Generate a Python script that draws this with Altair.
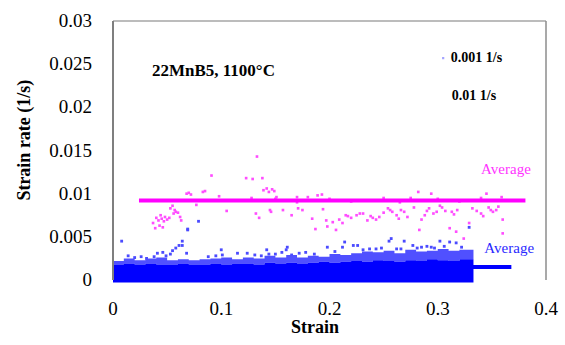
import altair as alt
import pandas as pd

# ---------------- data ----------------
# dense blue band (0.001 1/s): strain grid and envelope tops
band_x = [0.00, 0.01, 0.02, 0.03, 0.04, 0.05, 0.06, 0.07, 0.08, 0.09, 0.10, 0.11,
          0.12, 0.13, 0.14, 0.15, 0.16, 0.17, 0.18, 0.19, 0.20, 0.21, 0.22, 0.23,
          0.24, 0.25, 0.26, 0.27, 0.28, 0.29, 0.30, 0.31, 0.32, 0.333]
band_solid_top = [0.0018, 0.0019, 0.0018, 0.0019, 0.0018, 0.0018, 0.0019, 0.0018, 0.0018,
                  0.0019, 0.0018, 0.0019, 0.0019, 0.0018, 0.0020, 0.0019, 0.0020, 0.0019,
                  0.0020, 0.0021, 0.0020, 0.0021, 0.0022, 0.0021, 0.0023, 0.0022, 0.0021,
                  0.0023, 0.0022, 0.0024, 0.0023, 0.0022, 0.0024, 0.0022]
band_fringe_top = [0.0022, 0.0025, 0.0023, 0.0025, 0.0026, 0.0023, 0.0024, 0.0023, 0.0024,
                   0.0025, 0.0026, 0.0024, 0.0026, 0.0025, 0.0028, 0.0026, 0.0029, 0.0026,
                   0.0028, 0.0027, 0.0030, 0.0029, 0.0031, 0.0033, 0.0032, 0.0034, 0.0031,
                   0.0035, 0.0033, 0.0034, 0.0036, 0.0034, 0.0035, 0.0032]
band_base = -0.0003

# scattered blue points above the band
blue_x = [0.008, 0.014, 0.031, 0.038, 0.041, 0.046, 0.053, 0.055, 0.058, 0.061, 0.064, 0.064,
          0.068, 0.069, 0.069, 0.079, 0.100, 0.101, 0.115, 0.124, 0.142, 0.144, 0.156, 0.160,
          0.161, 0.165, 0.178, 0.198, 0.212, 0.214, 0.222, 0.226, 0.237, 0.243, 0.255, 0.257,
          0.262, 0.269, 0.277, 0.285, 0.290, 0.297, 0.302, 0.311, 0.317, 0.329,
          0.020, 0.026, 0.049, 0.088, 0.095, 0.131, 0.137, 0.150, 0.172, 0.186, 0.205,
          0.231, 0.248, 0.266, 0.281, 0.294, 0.306, 0.322]
blue_y = [0.0045, 0.0028, 0.0025, 0.0027, 0.0031, 0.0032, 0.0030, 0.0034, 0.0037, 0.0040,
          0.0040, 0.0045, 0.0031, 0.0058, 0.0059, 0.0068, 0.0035, 0.0029, 0.0031, 0.0031,
          0.0035, 0.0030, 0.0032, 0.0035, 0.0038, 0.0029, 0.0032, 0.0038, 0.0038, 0.0044,
          0.0040, 0.0040, 0.0036, 0.0036, 0.0045, 0.0048, 0.0036, 0.0045, 0.0040, 0.0038,
          0.0039, 0.0037, 0.0045, 0.0044, 0.0043, 0.0061,
          0.0026, 0.0027, 0.0028, 0.0027, 0.0028, 0.0029, 0.0028, 0.0030, 0.0031, 0.0030,
          0.0033, 0.0035, 0.0037, 0.0036, 0.0037, 0.0038, 0.0039, 0.0038]

# magenta points (0.01 1/s)
mag_x = [0.037, 0.040, 0.042, 0.044, 0.045, 0.047, 0.048, 0.050, 0.052, 0.043, 0.046, 0.039,
         0.053, 0.055, 0.057, 0.058, 0.060, 0.056, 0.062, 0.063, 0.068, 0.070, 0.072, 0.077,
         0.083, 0.085, 0.091, 0.098, 0.105, 0.123, 0.129, 0.133, 0.138, 0.139, 0.142,
         0.144, 0.147, 0.149, 0.128, 0.132, 0.135, 0.145, 0.146, 0.151, 0.157, 0.160, 0.165,
         0.170, 0.171, 0.175, 0.180, 0.184, 0.187, 0.189, 0.193, 0.194, 0.197, 0.198, 0.203,
         0.206, 0.209, 0.212, 0.215, 0.217, 0.220, 0.225, 0.228, 0.231, 0.235, 0.238, 0.240,
         0.243, 0.246, 0.250, 0.254, 0.256, 0.258, 0.262, 0.264, 0.266, 0.269, 0.272, 0.275,
         0.278, 0.282, 0.283, 0.285, 0.288, 0.290, 0.292, 0.294, 0.296, 0.299, 0.302, 0.304,
         0.307, 0.311, 0.313, 0.315, 0.318, 0.317, 0.324, 0.329, 0.332, 0.336, 0.340, 0.342,
         0.345, 0.347, 0.349, 0.351, 0.354, 0.356, 0.359, 0.360, 0.360,
         0.150, 0.170, 0.200, 0.220, 0.250, 0.265, 0.300, 0.320, 0.340, 0.372]
mag_y = [0.0066, 0.0072, 0.0069, 0.0075, 0.0071, 0.0068, 0.0073, 0.0070, 0.0072, 0.0063,
         0.0061, 0.0060, 0.0083, 0.0086, 0.0081, 0.0079, 0.0078, 0.0077, 0.0073, 0.0069,
         0.0100, 0.0101, 0.0099, 0.0087, 0.0102, 0.0103, 0.0121, 0.0097, 0.0080,
         0.0118, 0.0117, 0.0143, 0.0118, 0.0104, 0.0106, 0.0102, 0.0105, 0.0103, 0.0095,
         0.0077, 0.0072, 0.0081, 0.0079, 0.0096, 0.0081, 0.0092, 0.0075, 0.0096, 0.0083,
         0.0081, 0.0096, 0.0071, 0.0059, 0.0098, 0.0099, 0.0082, 0.0069, 0.0062, 0.0067,
         0.0058, 0.0070, 0.0066, 0.0075, 0.0074, 0.0072, 0.0075, 0.0077, 0.0077, 0.0069,
         0.0074, 0.0072, 0.0070, 0.0073, 0.0078, 0.0083, 0.0081, 0.0079, 0.0075, 0.0071,
         0.0081, 0.0079, 0.0073, 0.0095, 0.0084, 0.0102, 0.0058, 0.0070, 0.0075, 0.0080,
         0.0083, 0.0100, 0.0077, 0.0079, 0.0086, 0.0084, 0.0080, 0.0060, 0.0079, 0.0076,
         0.0081, 0.0056, 0.0048, 0.0066, 0.0083, 0.0080, 0.0077, 0.0074, 0.0100, 0.0084,
         0.0081, 0.0079, 0.0081, 0.0085, 0.0096, 0.0070, 0.0054,
         0.0094, 0.0090, 0.0094, 0.0091, 0.0095, 0.0090, 0.0094, 0.0091, 0.0095, 0.0092]

# average lines: [x start, x end, y]
avg_mag = [0.024, 0.381, 0.0092]
avg_blue = [0.0, 0.368, 0.0015]

# annotation texts and their data positions
label_avg_mag = ["Average", 0.363, 0.0129]
label_avg_blue = ["Average", 0.366, 0.0037]
title_text = ["22MnB5, 1100\u00b0C", 0.036, 0.0242]
legend_items = ["0.001 1/s", "0.01 1/s"]
legend_x = [0.312, 0.313]
legend_y = [0.0257, 0.0213]
legend_marker = [0.305, 0.0257]

# axes: tick values, tick labels, titles (title positions in data units)
x_ticks = [0, 0.1, 0.2, 0.3, 0.4]
x_tick_labels = ["0", "0.1", "0.2", "0.3", "0.4"]
y_ticks = [0, 0.005, 0.01, 0.015, 0.02, 0.025, 0.03]
y_tick_labels = ["0", "0.005", "0.01", "0.015", "0.02", "0.025", "0.03"]
x_title = ["Strain", 0.1866, -0.0056]
y_title = ["Strain rate (1/s)", -0.0813, 0.0162]
x_range = [0, 0.4]
y_range = [0, 0.03]

# ---------------- chart ----------------
SERIF = "Liberation Serif"
xs = alt.Scale(domain=x_range, nice=False, zero=False)
ys = alt.Scale(domain=y_range, nice=False, zero=False)


def X(field):
    return alt.X(field, type="quantitative", scale=xs, axis=None)


def Y(field):
    return alt.Y(field, type="quantitative", scale=ys, axis=None)


band_df = pd.DataFrame({"x": band_x, "solid": band_solid_top,
                        "fringe": band_fringe_top, "base": [band_base] * len(band_x)})
blue_df = pd.DataFrame({"x": blue_x, "y": blue_y})
mag_df = pd.DataFrame({"x": mag_x, "y": mag_y})
avg_df_m = pd.DataFrame({"x": [avg_mag[0]], "x2": [avg_mag[1]], "y": [avg_mag[2]]})
avg_df_b = pd.DataFrame({"x": [avg_blue[0]], "x2": [avg_blue[1]], "y": [avg_blue[2]]})

fringe = alt.Chart(band_df).mark_area(color="#3d3dff", interpolate="step-after",
                                      opacity=0.9).encode(
    x=X("x"), y=Y("fringe"), y2="solid:Q")
solid = alt.Chart(band_df).mark_area(color="#0000ff", interpolate="step-after").encode(
    x=X("x"), y=Y("solid"), y2="base:Q")
blue_pts = alt.Chart(blue_df).mark_square(size=8, color="#4b4bff", opacity=1).encode(
    x=X("x"), y=Y("y"))
mag_pts = alt.Chart(mag_df).mark_square(size=7, color="#ff4dff", opacity=1).encode(
    x=X("x"), y=Y("y"))
rule_m = alt.Chart(avg_df_m).mark_rule(color="#ff00ff", strokeWidth=4).encode(
    x=X("x"), x2="x2:Q", y=Y("y"))
rule_b = alt.Chart(avg_df_b).mark_rule(color="#0000ff", strokeWidth=4).encode(
    x=X("x"), x2="x2:Q", y=Y("y"))

# frame: left (dark), top and right (light); no bottom line as in the reference
left_df = pd.DataFrame({"x": [x_range[0]], "y": [y_range[0]], "y2": [y_range[1]]})
right_df = pd.DataFrame({"x": [x_range[1]], "y": [y_range[0]], "y2": [y_range[1]]})
top_df = pd.DataFrame({"x": [x_range[0]], "x2": [x_range[1]], "y": [y_range[1]]})
frame_left = alt.Chart(left_df).mark_rule(color="#7f7f7f", strokeWidth=2).encode(
    x=X("x"), y=Y("y"), y2="y2:Q")
frame_right = alt.Chart(right_df).mark_rule(color="#8c8c8c", strokeWidth=1.5).encode(
    x=X("x"), y=Y("y"), y2="y2:Q")
frame_top = alt.Chart(top_df).mark_rule(color="#a6a6a6", strokeWidth=1.5).encode(
    x=X("x"), x2="x2:Q", y=Y("y"))

# tick labels and axis titles
ylab_df = pd.DataFrame({"v": y_ticks, "t": y_tick_labels, "x": [x_range[0]] * len(y_ticks)})
xlab_df = pd.DataFrame({"v": x_ticks, "t": x_tick_labels, "y": [y_range[0]] * len(x_ticks)})
y_labels = alt.Chart(ylab_df).mark_text(font=SERIF, fontSize=19, color="black",
                                        align="right", baseline="middle", dx=-21).encode(
    x=X("x"), y=Y("v"), text="t:N")
x_labels = alt.Chart(xlab_df).mark_text(font=SERIF, fontSize=19, color="black",
                                        align="center", baseline="top", dy=20).encode(
    x=X("v"), y=Y("y"), text="t:N")
xt = alt.Chart(pd.DataFrame({"t": [x_title[0]], "x": [x_title[1]], "y": [x_title[2]]})
               ).mark_text(font=SERIF, fontSize=18, fontWeight="bold", color="black",
                           align="center", baseline="middle").encode(
    x=X("x"), y=Y("y"), text="t:N")
yt = alt.Chart(pd.DataFrame({"t": [y_title[0]], "x": [y_title[1]], "y": [y_title[2]]})
               ).mark_text(font=SERIF, fontSize=18, fontWeight="bold", color="black",
                           align="center", baseline="middle", angle=270).encode(
    x=X("x"), y=Y("y"), text="t:N")


def text_layer(df, **kw):
    return alt.Chart(df).mark_text(**kw).encode(x=X("x"), y=Y("y"), text="t:N")


t_avg_m = text_layer(pd.DataFrame({"t": [label_avg_mag[0]], "x": [label_avg_mag[1]],
                                   "y": [label_avg_mag[2]]}),
                     font=SERIF, fontSize=15, color="#ff33ff", align="center")
t_avg_b = text_layer(pd.DataFrame({"t": [label_avg_blue[0]], "x": [label_avg_blue[1]],
                                   "y": [label_avg_blue[2]]}),
                     font=SERIF, fontSize=15, color="#2a2aff", align="center")
t_title = text_layer(pd.DataFrame({"t": [title_text[0]], "x": [title_text[1]],
                                   "y": [title_text[2]]}),
                     font=SERIF, fontSize=17, fontWeight="bold", color="black",
                     align="left")
t_leg = text_layer(pd.DataFrame({"t": legend_items, "x": legend_x, "y": legend_y}),
                   font=SERIF, fontSize=14, fontWeight="bold", color="black",
                   align="left")
leg_mark = alt.Chart(pd.DataFrame({"x": [legend_marker[0]], "y": [legend_marker[1]]})
                     ).mark_square(size=5, color="#7f7fff").encode(x=X("x"), y=Y("y"))

chart = alt.layer(frame_top, frame_right, fringe, solid, blue_pts, mag_pts, rule_m,
                  rule_b, frame_left, y_labels, x_labels, xt, yt,
                  t_avg_m, t_avg_b, t_title, t_leg, leg_mark).properties(
    width=433, height=259,
    autosize=alt.AutoSizeParams(type="none"),
    padding={"left": 113, "top": 21, "right": 19, "bottom": 65},
    background="white",
).configure_view(stroke=None)

chart.save("out.html", embed_options={"renderer": "svg", "actions": False})
